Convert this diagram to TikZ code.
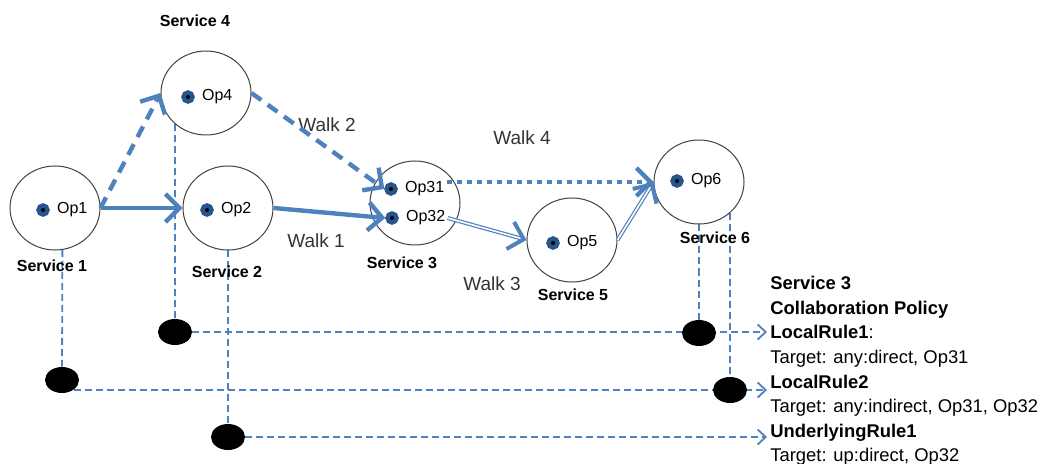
\documentclass[tikz,border=0pt]{standalone}
\usepackage{fontspec}
\setmainfont{Liberation Sans}
\usetikzlibrary{arrows.meta,shapes.geometric,positioning,backgrounds}
\definecolor{walkblue}{RGB}{79,129,189}
\definecolor{dotblue}{RGB}{38,84,140}
\begin{document}
\begin{tikzpicture}[x=0.5pt, y=-0.5pt,
    svc/.style={draw=black!75, ellipse, line width=0.5pt, minimum width=45pt, minimum height=42pt, inner sep=0pt},
    opdot/.style={circle, fill=black, draw=dotblue, line width=2.2pt, minimum size=4.5pt, inner sep=0pt},
    oplbl/.style={font=\fontsize{8}{9}\selectfont, inner sep=1pt, right=2.5pt of #1},
    svclbl/.style={font=\bfseries\fontsize{8}{9}\selectfont},
    walklbl/.style={font=\fontsize{9.5}{11}\selectfont, text=black!80},
    walk/.style={draw=walkblue, line width=2.2pt, -{Straight Barb[length=7pt,width=14pt]}},
    twin/.style={draw=walkblue, line width=0.6pt, double=white, double distance=0.8pt, -{Straight Barb[length=7pt,width=14pt,line width=2pt]}},
    link/.style={draw=walkblue, line width=0.9pt, dash pattern=on 3.5pt off 2pt},
    hook/.style={ellipse, fill=black, minimum width=17pt, minimum height=13pt, inner sep=0pt}]
    \useasboundingbox (0,0) rectangle (1052,464);

    \node[svc] (s1) at (55,208) {};
    \node[svc] (s4) at (206,93) {};
    \node[svc] (s2) at (228,208) {};
    \node[svc] (s3) at (415,203) {};
    \node[svc] (s5) at (572,240) {};
    \node[svc] (s6) at (699,182) {};

    \node[opdot] (d1) at (43,210) {};
    \node[opdot] (d4) at (188,97) {};
    \node[opdot] (d2) at (207,210) {};
    \node[opdot] (d31) at (391,189) {};
    \node[opdot] (d32) at (392,218) {};
    \node[opdot] (d5) at (553,243) {};
    \node[opdot] (d6) at (677,181) {};
    \node[oplbl=d1] (op1) {Op1};
    \node[oplbl=d4] (op4) {Op4};
    \node[oplbl=d2] (op2) {Op2};
    \node[oplbl=d31] (op31) {Op31};
    \node[oplbl=d32] (op32) {Op32};
    \node[oplbl=d5] (op5) {Op5};
    \node[oplbl=d6] (op6) {Op6};

    \node[svclbl] (n1) at (52,266) {Service 1};
    \node[svclbl] (n4) at (195,21) {Service 4};
    \node[svclbl] (n2) at (227,272) {Service 2};
    \node[svclbl] (n3) at (402,263) {Service 3};
    \node[svclbl] (n5) at (573,295) {Service 5};
    \node[svclbl] (n6) at (715,238) {Service 6};

    \node[walklbl] (w1) at (316,241) {Walk 1};
    \node[walklbl] (w2) at (327,125) {Walk 2};
    \node[walklbl] (w3) at (492,284) {Walk 3};
    \node[walklbl] (w4) at (522,138) {Walk 4};

    \draw[walk, dash pattern=on 6pt off 4pt] (s1.east) -- (s4.west);
    \draw[walk] (s1.east) -- (s2.west);
    \draw[walk] (s2.east) -- (d32.west);
    \draw[walk, dash pattern=on 6pt off 4pt] (s4.east) -- (d31.west);
    \draw[walk, dash pattern=on 2.5pt off 2.5pt] (op31.east |- s6.west) -- (s6.west);
    \draw[twin] (op32.east) -- (s5.west);
    \draw[twin] (s5.east) -- (s6.west);

    \node[hook] (e1) at (175,332) {};
    \node[hook] (e2) at (62,380) {};
    \node[hook] (e3) at (228,437) {};
    \node[hook] (e4) at (699,333) {};
    \node[hook] (e5) at (730,390) {};

    \node[anchor=north west, align=left, inner sep=0pt, font=\fontsize{9.2}{12.3}\selectfont] (policy) at (770,276)
        {\textbf{Service 3}\\ \textbf{Collaboration Policy}\\ \textbf{LocalRule1}:\\ Target: any:direct, Op31\\
         \textbf{LocalRule2}\\ Target: any:indirect, Op31, Op32\\ \textbf{UnderlyingRule1}\\ Target: up:direct, Op32};

    \begin{scope}[on background layer]
        \draw[link] (s1.-80) -- (e2);
        \draw[link] (s4.-135) -- (e1);
        \draw[link] (s2.south) -- (e3);
        \draw[link] (s6.south) -- (e4);
        \draw[link] (s6.-45) -- (e5);
        \draw[link, -{Straight Barb[length=4pt,width=7.5pt]}, shorten >=1.5pt] (e1) -- (e1 -| policy.west);
        \draw[link, -{Straight Barb[length=4pt,width=7.5pt]}, shorten >=1.5pt] (e2.south east |- e5) -- (e5 -| policy.west);
        \draw[link, -{Straight Barb[length=4pt,width=7.5pt]}, shorten >=1.5pt] (e3) -- (e3 -| policy.west);
    \end{scope}
\end{tikzpicture}
\end{document}
